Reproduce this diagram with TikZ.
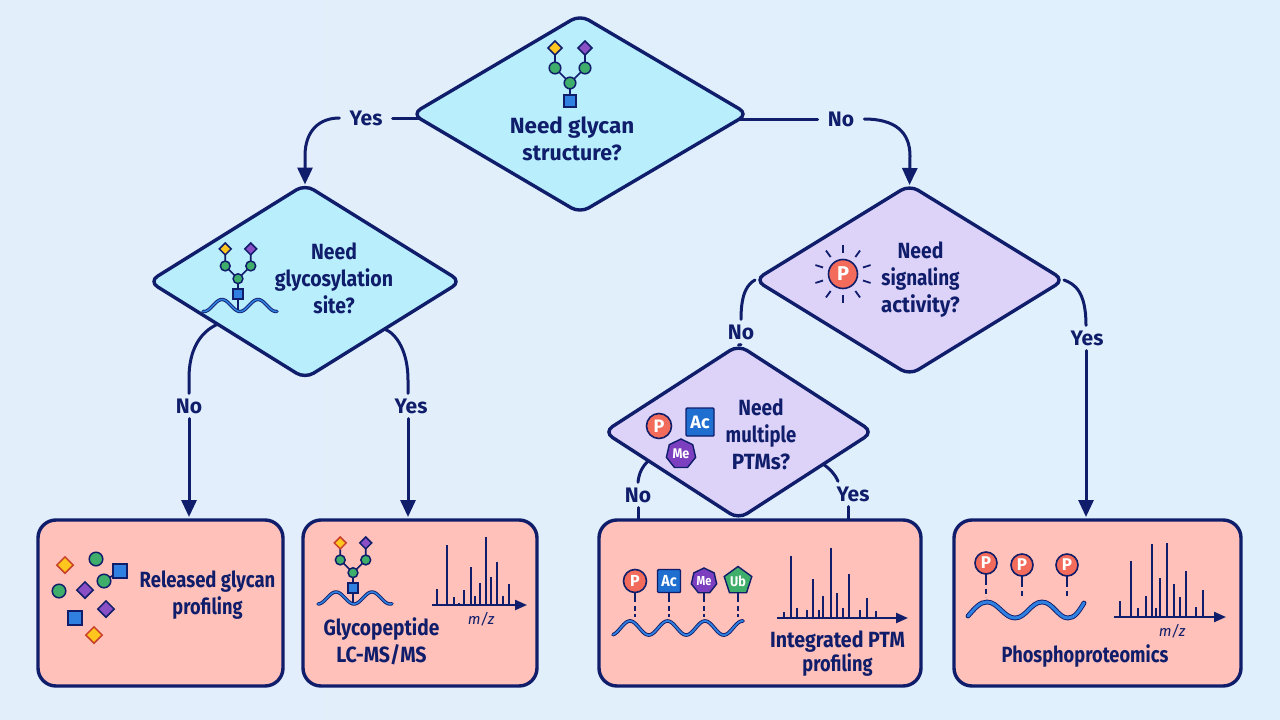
\documentclass[tikz,border=0pt]{standalone}
\usepackage{graphicx}
\usepackage{fontspec}
\setmainfont{Fira Sans}
\usetikzlibrary{shapes.geometric,arrows.meta,calc}
\pgfdeclarelayer{bgl}\pgfdeclarelayer{conn}\pgfsetlayers{bgl,conn,main}
\definecolor{navy}{HTML}{0F1D6B}
\definecolor{bgleft}{HTML}{E3EEFB}
\definecolor{bgright}{HTML}{DFF0FC}
\definecolor{cyanf}{HTML}{B9EEFD}
\definecolor{lavf}{HTML}{DDD3F8}
\definecolor{boxf}{HTML}{FFC1B9}
\definecolor{glgreen}{HTML}{3FAE6A}
\definecolor{glyellow}{HTML}{FFC61E}
\definecolor{glpurple}{HTML}{8A4FC4}
\definecolor{glblue}{HTML}{2F80E0}
\definecolor{glred}{HTML}{C8402A}
\definecolor{pred}{HTML}{F26B5B}
\definecolor{acblue}{HTML}{1E6FD0}
\definecolor{mepurple}{HTML}{7B3FBF}
\tikzset{
 decision/.style={diamond,draw=navy,line width=3.4pt,rounded corners=10pt,inner sep=0pt,outer sep=0pt},
 resultbox/.style={rectangle,draw=navy,fill=boxf,line width=3.4pt,rounded corners=18pt,inner sep=0pt,outer sep=0pt},
 lbl/.style={text=navy,font=\bfseries\fontsize{22}{25}\selectfont,align=center,inner sep=0pt},
 edgelbl/.style={text=navy,font=\bfseries\fontsize{21}{24}\selectfont,inner xsep=10pt,inner ysep=5pt,text height=15pt,text depth=0pt},
 conn/.style={draw=navy,line width=3pt,line cap=round},
 arr/.style={conn,-{Stealth[length=17pt,width=15pt,inset=0pt]}},
 peak/.style={draw=navy,line width=2pt},
 axisline/.style={draw=navy,line width=2.2pt,-{Stealth[length=12pt,width=10pt,inset=0pt]}},
 glyphline/.style={draw=navy,line width=1.6pt},
 ptmlink/.style={draw=navy,line width=2pt},
 ptmdash/.style={draw=navy,line width=2.4pt,dash pattern=on 5pt off 3.5pt},
 pmark/.style={circle,draw=navy,fill=pred,line width=1.6pt,text=white,inner sep=0pt},
 acmark/.style={rectangle,draw=navy,fill=acblue,line width=1.4pt,text=white,inner sep=0pt,rounded corners=1pt},
 memark/.style={regular polygon,regular polygon sides=7,draw=navy,fill=mepurple,line width=1.4pt,text=white,inner sep=0pt},
 ubmark/.style={regular polygon,regular polygon sides=5,draw=navy,fill=glgreen,line width=1.4pt,text=white,inner sep=0pt},
}
\newcommand{\cw}[2]{\scalebox{#1}[1]{#2}}
\newcommand{\fs}[1]{\bfseries\fontsize{#1}{#1}\selectfont}
\newcommand{\glsq}[3]{\path[draw=navy,line width=1.5pt,fill=#3] (#1-5.8,#2-5.8) rectangle (#1+5.8,#2+5.8);}
\newcommand{\glci}[3]{\path[draw=navy,line width=1.5pt,fill=#3] (#1,#2) circle (5.8);}
\newcommand{\gldi}[4][navy]{\path[draw=#1,line width=1.5pt,fill=#4] (#2-7,#3) -- (#2,#3-7) -- (#2+7,#3) -- (#2,#3+7) -- cycle;}
\newcommand{\glycantree}[4][navy]{%
 \begin{scope}[shift={(#2,#3)},scale=#4]
 \draw[glyphline] (0,0) -- (0,-18) -- (-15,-33) -- (-15,-53);
 \draw[glyphline] (0,-18) -- (15,-33) -- (15,-53);
 \glsq{0}{0}{glblue}
 \glci{0}{-18}{glgreen}\glci{-15}{-33}{glgreen}\glci{15}{-33}{glgreen}
 \gldi[#1]{-15}{-53}{glyellow}\gldi{15}{-53}{glpurple}
 \end{scope}}
\newcommand{\bigglyph}[3]{\begin{scope}[shift={(#2,#3)},scale=1.17]#1\end{scope}}
\newcommand{\peptide}[2]{%
 \draw[draw=navy,line width=#1pt+1.4pt,line cap=round] #2;
 \draw[draw=glblue,line width=#1pt-0.4pt,line cap=round] #2;}
\begin{document}
\begin{tikzpicture}[x=1pt,y=-1pt]
\useasboundingbox (0,0) rectangle (1280,720);
\begin{pgfonlayer}{bgl}
\shade[left color=bgleft,right color=bgright] (0,0) rectangle (1280,720);
\end{pgfonlayer}

% decisions
\node[decision,fill=cyanf,minimum width=336pt,minimum height=198pt] (d1) at (580,114) {};
\node[decision,fill=cyanf,minimum width=312pt,minimum height=194pt] (d2) at (305,281.5) {};
\node[decision,fill=lavf,minimum width=309pt,minimum height=190pt] (d3) at (909.5,280) {};
\node[decision,fill=lavf,minimum width=269pt,minimum height=174pt] (d4) at (738.5,432) {};

% results
\node[resultbox,minimum width=245pt,minimum height=166pt] (ra) at (160.5,603) {};
\node[resultbox,minimum width=234pt,minimum height=166pt] (rb) at (420,603) {};
\node[resultbox,minimum width=322pt,minimum height=166pt] (rc) at (760,603) {};
\node[resultbox,minimum width=287pt,minimum height=166pt] (rd) at (1097.5,603) {};

% main texts
\node[lbl] (t1) at (572,139) {\cw{1.02}{Need glycan}\\[2pt]\cw{.97}{structure?}};
\node[lbl] (t2) at (334,278.5) {\cw{.88}{Need}\\[2pt]\cw{.89}{glycosylation}\\[2pt]\cw{.88}{site?}};
\node[lbl] (t3) at (920.5,279.5) {\cw{.88}{Need}\\[2pt]\cw{.86}{signaling}\\[2pt]\cw{.93}{activity?}};
\node[lbl] (t4) at (761,434.5) {\cw{.87}{Need}\\[2pt]\cw{.84}{multiple}\\[2pt]\cw{.94}{PTMs?}};
\node[lbl] (ta) at (207.5,595) {\cw{.84}{Released glycan}\\[2pt]\cw{.825}{profiling}};
\node[lbl] (tb) at (381.5,641.5) {\cw{.87}{Glycopeptide}\\[2pt]\cw{.89}{LC-MS/MS}};
\node[lbl] (tc) at (837.5,654) {\cw{.89}{Integrated PTM}\\[-1pt]\cw{.825}{profiling}};
\node[lbl] (td) at (1085,656) {\cw{.83}{Phosphoproteomics}};

% edge labels
\node[edgelbl] (e1) at (366,118) {Yes};
\node[edgelbl] (e2) at (841,119) {No};
\node[edgelbl] (e3) at (189,406) {No};
\node[edgelbl] (e4) at (411,406) {Yes};
\node[edgelbl] (e5) at (741,332) {No};
\node[edgelbl] (e6) at (1087,338) {Yes};
\node[edgelbl] (e7) at (638,495) {No};
\node[edgelbl] (e8) at (853,494) {Yes};

% connectors
\begin{pgfonlayer}{conn}
\draw[conn] (d1.center |- e1.east) -- (e1.east);
\draw[arr] (e1.west) .. controls (320,118) and (305,130) .. (305,156) -- (d2.north);
\draw[conn] (d1.center |- e2.west) -- (e2.west);
\draw[arr] (e2.east) .. controls (895,119) and (910,132) .. (910,156) -- (d3.north);
\draw[conn] ($(d2.west)!0.44!(d2.south)$) .. controls (200,332) and (189,350) .. (189,378) -- (e3.north);
\draw[arr,shorten >=3pt] (e3.south) -- (ra.north -| e3.south);
\draw[conn] ($(d2.east)!0.49!(d2.south)$) .. controls (397,334) and (408,352) .. (408,380) -- (e4.north -| 408,0);
\draw[arr,shorten >=3pt] (e4.south -| 408,0) -- (rb.north -| 408,0);
\draw[conn] (d3.west) .. controls (748,284) and (741,292) .. (e5.north);
\draw[conn] (d3.east) .. controls (1075,284) and (1086,292) .. (e6.north -| 1086,0);
\draw[arr,shorten >=3pt] (e6.south -| 1086,0) -- (rd.north -| 1086,0);
\draw[conn] (e5.south) -- (d4.north);
\draw[conn] ($(d4.west)!0.33!(d4.south)$) .. controls (642,467) and (639,473) .. (e7.north);
\draw[conn] (e7.south) -- (rc.north -| e7.south);
\draw[conn] ($(d4.east)!0.37!(d4.south)$) .. controls (830,469) and (835,474) .. (e8.north -| 838,0);
\draw[conn] (e8.south -| 848,0) -- (rc.north -| 848,0);
\end{pgfonlayer}

% icons: glycans
\glycantree{570}{101}{1}
\draw[glyphline] (238,294) -- (238,310);
\glycantree{238}{294}{0.85}
\peptide{2}{plot[domain=203:277,samples=70] (\x,{305.5-6*cos(10*(\x-222))})}
\draw[glyphline] (353,588) -- (353,604);
\glycantree[glred]{353}{588}{0.85}
\peptide{2}{plot[domain=318:392,samples=70] (\x,{598-6*cos(10*(\x-336))})}

% box A scatter
\draw[glyphline] (104,581) -- (120,571);
\bigglyph{\gldi[glred]{0}{0}{glyellow}}{65}{565}
\bigglyph{\glci{0}{0}{glgreen}}{96}{559}
\bigglyph{\glsq{0}{0}{glblue}}{120}{571}
\bigglyph{\glci{0}{0}{glgreen}}{104}{581}
\bigglyph{\glci{0}{0}{glgreen}}{59}{591}
\bigglyph{\gldi{0}{0}{glpurple}}{85}{590}
\bigglyph{\gldi{0}{0}{glpurple}}{106}{609}
\bigglyph{\glsq{0}{0}{glblue}}{75}{618}
\bigglyph{\gldi[glred]{0}{0}{glyellow}}{94}{635}

% signal icon
\foreach \a in {90,54,18,-18,-54,-90,-126,-162,162,126}
 \draw[navy,line width=1.8pt] ($(843,274)+(\a:21)$) -- ($(843,274)+(\a:29)$);
\node[pmark,minimum size=29pt,font=\fs{20}] (pa) at (843,274) {P};

% multi PTM icons
\node[pmark,minimum size=25pt,font=\fs{18}] (pb) at (659,426) {P};
\node[acmark,minimum size=28pt,font=\fs{18}] (ab) at (700,422) {Ac};
\node[memark,minimum size=30pt,font=\fs{14}] (mb) at (681,454) {\cw{.9}{Me}};

% box C
\draw[ptmlink] (635,592) -- (635,597);\draw[ptmdash] (635,597) -- (635,617);
\draw[ptmlink] (669,592) -- (669,597);\draw[ptmdash] (669,597) -- (669,617);
\draw[ptmlink] (704,592) -- (704,597);\draw[ptmdash] (704,597) -- (704,617);
\draw[ptmlink] (738,592) -- (738,597);\draw[ptmdash] (738,597) -- (738,617);
\node[pmark,minimum size=23pt,font=\fs{16}] (pc) at (635,581) {P};
\node[acmark,minimum size=23pt,font=\fs{16}] (ac) at (669,581) {\cw{.9}{Ac}};
\node[memark,minimum size=26pt,font=\fs{13}] (mc) at (704,581) {\cw{.85}{Me}};
\node[ubmark,minimum size=29pt,font=\fs{14}] (uc) at (738,581) {\cw{.9}{Ub}};
\peptide{2.2}{plot[domain=613:743,samples=120] (\x,{628-7*cos(9.6*(\x-630))})}

% box D
\draw[ptmlink] (986,574) -- (986,580);\draw[ptmdash] (986,580) -- (986,597);
\draw[ptmlink] (1022,576) -- (1022,582);\draw[ptmdash] (1022,582) -- (1022,597);
\draw[ptmlink] (1067,576) -- (1067,582);\draw[ptmdash] (1067,582) -- (1067,597);
\node[pmark,minimum size=22pt,font=\fs{17}] (pd1) at (986,563) {P};
\node[pmark,minimum size=22pt,font=\fs{17}] (pd2) at (1022,565) {P};
\node[pmark,minimum size=22pt,font=\fs{17}] (pd3) at (1067,565) {P};
\peptide{3.4}{(968,616) .. controls (975,608) and (980,602) .. (987,602) .. controls (998,602) and (1004,618) .. (1015,618) .. controls (1026,618) and (1031,602) .. (1042,602) .. controls (1053,602) and (1058,618) .. (1068,618) .. controls (1075,618) and (1079,611) .. (1084,603)}

% spectra
\foreach \x/\t in {437/589,447/545,454/597,459/603,464/590,471/567,475/596,480/583,486/537,491/577,497/562,503/596,509/584}
 \draw[peak] (\x,605) -- (\x,\t);
\draw[axisline] (432,605) -- (527,605);
\node[text=navy,font=\itshape\fontsize{15}{15}\selectfont,inner sep=0pt] (mz1) at (481,619) {m/z};
\foreach \x/\t in {784/612,791/556,797/608,807/610,813/579,819/610,823/596,831/548,837/593,843/608,849/574,860/610,867/598,876/611}
 \draw[peak] (\x,618) -- (\x,\t);
\draw[axisline] (777,618) -- (908,618);
\foreach \x/\t in {1120/601,1131/561,1138/608,1146/596,1152/544,1156/608,1160/578,1167/543,1174/584,1180/597,1186/571,1196/607,1203/590}
 \draw[peak] (\x,617) -- (\x,\t);
\draw[axisline] (1114,617) -- (1226,617);
\node[text=navy,font=\itshape\fontsize{15}{15}\selectfont,inner sep=0pt] (mz2) at (1172,631) {m/z};
\end{tikzpicture}
\end{document}
